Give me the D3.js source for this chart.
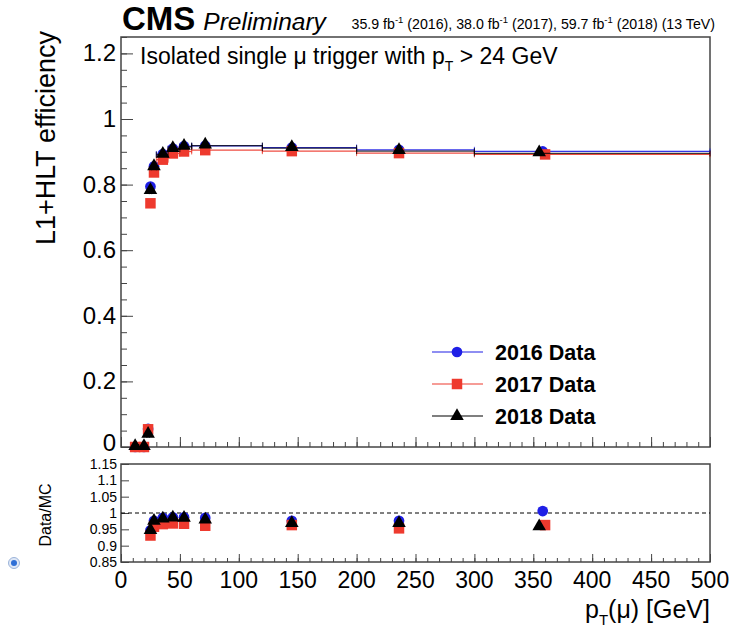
<!DOCTYPE html>
<html>
<head>
<meta charset="utf-8">
<script src="https://cdn.jsdelivr.net/npm/d3@7"></script>
<style>
  body { margin: 0; background: #fff; }
  svg { display: block; font-family: "Liberation Sans", Arial, Helvetica, sans-serif; }
</style>
</head>
<body>
<svg id="chart" width="731" height="630"></svg>
<script>
// ---------------- data ----------------
const binLo = [10, 15, 22, 24, 26, 30, 40, 50, 60, 120, 200, 300];
const binHi = [15, 22, 24, 26, 30, 40, 50, 60, 120, 200, 300, 500];
const pt2016 = [12, 19.5, 23, 25, 28, 35.5, 44, 53.5, 71.5, 145, 236, 358];
const pt2017 = [12, 19.5, 23, 25, 28, 35.5, 44, 53.5, 71.5, 145, 236, 360];
const pt2018 = [12, 19.5, 23, 25, 28, 35.5, 44, 53.5, 71.5, 145, 236, 355];
const eff2016 = [0, 0, 0.055, 0.794, 0.856, 0.893, 0.910, 0.917, 0.918, 0.913, 0.906, 0.901];
const eff2017 = [0, 0, 0.054, 0.743, 0.837, 0.876, 0.895, 0.901, 0.905, 0.902, 0.896, 0.892];
const eff2018 = [0, 0, 0.037, 0.780, 0.853, 0.891, 0.908, 0.915, 0.919, 0.911, 0.902, 0.895];

const ratioIdx = [3, 4, 5, 6, 7, 8, 9, 10, 11];
const ratio2016 = [0.947, 0.976, 0.985, 0.987, 0.987, 0.985, 0.976, 0.976, 1.006];
const ratio2017 = [0.931, 0.958, 0.966, 0.968, 0.967, 0.961, 0.963, 0.953, 0.963];
const ratio2018 = [0.945, 0.973, 0.980, 0.983, 0.982, 0.977, 0.966, 0.966, 0.956];
const ratioErr2016 = [0.003, 0.002, 0.002, 0.002, 0.002, 0.002, 0.003, 0.004, 0.012];

const xTicks = [0, 50, 100, 150, 200, 250, 300, 350, 400, 450, 500];
const yTicksMain = [0, 0.2, 0.4, 0.6, 0.8, 1, 1.2];
const yTicksRatio = [0.85, 0.9, 0.95, 1, 1.05, 1.1, 1.15];
const seriesNames = ["2016 Data", "2017 Data", "2018 Data"];
const seriesColors = ["#1f1fe6", "#ee3a2e", "#000000"];
const seriesShapes = ["circle", "square", "triangle"];

// ---------------- layout ----------------
const svg = d3.select("#chart");
const L = 121, R = 710;
const x = d3.scaleLinear().domain([0, 500]).range([L, R]);
const yM = d3.scaleLinear().domain([0, 1.25]).range([447, 37]);
const yR = d3.scaleLinear().domain([0.85, 1.15]).range([562, 464]);
const frameColor = "#444";

function symbolPath(shape) {
  if (shape === "circle") return d3.symbol().type(d3.symbolCircle).size(90)();
  if (shape === "square") return d3.symbol().type(d3.symbolSquare).size(110)();
  return d3.symbol().type(d3.symbolTriangle).size(80)();
}

// ---------------- main panel ----------------
const gM = svg.append("g");
gM.append("rect").attr("x", L).attr("y", 37).attr("width", R - L).attr("height", 410)
  .attr("fill", "none").attr("stroke", frameColor).attr("stroke-width", 1.5);

// left axis
const yMinor = d3.range(0, 1.2501, 0.05);
gM.append("g").attr("transform", `translate(${L},0)`)
  .call(d3.axisRight(yM).tickValues(yMinor).tickSize(6).tickFormat(""))
  .call(g => g.select(".domain").remove())
  .call(g => g.selectAll("line").attr("stroke", frameColor));
gM.append("g").attr("transform", `translate(${L},0)`)
  .call(d3.axisRight(yM).tickValues(yTicksMain).tickSize(12).tickFormat(""))
  .call(g => g.select(".domain").remove())
  .call(g => g.selectAll("line").attr("stroke", frameColor));
gM.selectAll(".ylab").data(yTicksMain).enter().append("text")
  .attr("x", 116).attr("y", d => yM(d) + (d === 0 ? 4 : 8)).attr("text-anchor", "end")
  .attr("font-size", 24).text(d => d3.format("~g")(d));

// bottom axis ticks (main)
const xMinor = d3.range(0, 501, 10);
gM.append("g").attr("transform", `translate(0,447)`)
  .call(d3.axisTop(x).tickValues(xMinor).tickSize(5).tickFormat(""))
  .call(g => g.select(".domain").remove())
  .call(g => g.selectAll("line").attr("stroke", frameColor));
gM.append("g").attr("transform", `translate(0,447)`)
  .call(d3.axisTop(x).tickValues(xTicks).tickSize(10).tickFormat(""))
  .call(g => g.select(".domain").remove())
  .call(g => g.selectAll("line").attr("stroke", frameColor));

const mainSeries = [
  { pt: pt2016, eff: eff2016 },
  { pt: pt2017, eff: eff2017 },
  { pt: pt2018, eff: eff2018 }
];
mainSeries.forEach((s, k) => {
  const g = gM.append("g");
  const pts = s.eff.map((v, i) => ({ x: s.pt[i], y: v, lo: binLo[i], hi: binHi[i] }));
  g.selectAll("line.h").data(pts).enter().append("line")
    .attr("x1", d => x(d.lo)).attr("x2", d => x(d.hi))
    .attr("y1", d => yM(d.y)).attr("y2", d => yM(d.y))
    .attr("stroke", seriesColors[k]).attr("stroke-width", 1.3)
    .attr("opacity", k === 2 ? 0.75 : 0.9);
  g.selectAll("line.c1").data(pts).enter().append("line")
    .attr("x1", d => x(d.lo)).attr("x2", d => x(d.lo))
    .attr("y1", d => yM(d.y) - 3).attr("y2", d => yM(d.y) + 3)
    .attr("stroke", seriesColors[k]).attr("stroke-width", 1).attr("opacity", 0.8);
  g.selectAll("line.c2").data(pts).enter().append("line")
    .attr("x1", d => x(d.hi)).attr("x2", d => x(d.hi))
    .attr("y1", d => yM(d.y) - 3).attr("y2", d => yM(d.y) + 3)
    .attr("stroke", seriesColors[k]).attr("stroke-width", 1).attr("opacity", 0.8);
  g.selectAll("path").data(pts).enter().append("path")
    .attr("d", symbolPath(seriesShapes[k]))
    .attr("transform", d => `translate(${x(d.x)},${yM(d.y) - (seriesShapes[k] === "triangle" ? 1 : 0)})`)
    .attr("fill", seriesColors[k]);
});

// text in main panel
const t1 = gM.append("text").attr("x", 140).attr("y", 64).attr("font-size", 23);
t1.append("tspan").text("Isolated single μ trigger with p");
t1.append("tspan").attr("font-size", 14).attr("dy", 7).text("T");
t1.append("tspan").attr("dy", -7).text(" > 24 GeV");

// legend
const legY = [352, 384, 416];
seriesNames.forEach((name, k) => {
  gM.append("line").attr("x1", 432).attr("x2", 483).attr("y1", legY[k]).attr("y2", legY[k])
    .attr("stroke", seriesColors[k]).attr("stroke-width", 1.2);
  gM.append("path").attr("d", symbolPath(seriesShapes[k]))
    .attr("transform", `translate(457,${legY[k]})`).attr("fill", seriesColors[k]);
  gM.append("text").attr("x", 495).attr("y", legY[k] + 8).attr("font-size", 21.5)
    .attr("font-weight", "bold").text(name);
});

// header
const hdr = svg.append("text").attr("x", 122).attr("y", 30);
hdr.append("tspan").attr("font-size", 33).attr("font-weight", "bold").text("CMS");
hdr.append("tspan").attr("font-size", 24.5).attr("font-style", "italic").attr("dx", 8).text("Preliminary");
const lumi = svg.append("text").attr("x", 715).attr("y", 29).attr("text-anchor", "end").attr("font-size", 14.2);
[["35.9 fb", "(2016), "], ["38.0 fb", "(2017), "], ["59.7 fb", "(2018) (13 TeV)"]].forEach(p => {
  lumi.append("tspan").text(p[0]);
  lumi.append("tspan").attr("font-size", 9.5).attr("dy", -6).text("-1");
  lumi.append("tspan").attr("dy", 6).text(" " + p[1]);
});

// y title
svg.append("text").attr("transform", "translate(55,138) rotate(-90)")
  .attr("text-anchor", "middle").attr("font-size", 27).text("L1+HLT efficiency");

// ---------------- ratio panel ----------------
const gR = svg.append("g");
gR.append("rect").attr("x", L).attr("y", 464).attr("width", R - L).attr("height", 98)
  .attr("fill", "none").attr("stroke", frameColor).attr("stroke-width", 1.5);
gR.append("g").attr("transform", `translate(${L},0)`)
  .call(d3.axisRight(yR).tickValues(yTicksRatio).tickSize(8).tickFormat(""))
  .call(g => g.select(".domain").remove())
  .call(g => g.selectAll("line").attr("stroke", frameColor));
gR.selectAll(".rlab").data(yTicksRatio).enter().append("text")
  .attr("x", 117).attr("y", d => yR(d) + 5).attr("text-anchor", "end")
  .attr("font-size", 14).text(d => d3.format("~g")(d));
gR.append("g").attr("transform", `translate(0,562)`)
  .call(d3.axisTop(x).tickValues(xMinor).tickSize(4).tickFormat(""))
  .call(g => g.select(".domain").remove())
  .call(g => g.selectAll("line").attr("stroke", frameColor));
gR.append("g").attr("transform", `translate(0,562)`)
  .call(d3.axisTop(x).tickValues(xTicks).tickSize(8).tickFormat(""))
  .call(g => g.select(".domain").remove())
  .call(g => g.selectAll("line").attr("stroke", frameColor));
gR.append("line").attr("x1", L).attr("x2", R).attr("y1", yR(1)).attr("y2", yR(1))
  .attr("stroke", "#000").attr("stroke-width", 1).attr("stroke-dasharray", "4,3");

const ratioSeries = [
  { pt: pt2016, r: ratio2016, err: ratioErr2016 },
  { pt: pt2017, r: ratio2017, err: null },
  { pt: pt2018, r: ratio2018, err: null }
];
ratioSeries.forEach((s, k) => {
  const g = gR.append("g");
  const pts = s.r.map((v, i) => ({ x: s.pt[ratioIdx[i]], y: v, e: s.err ? s.err[i] : 0 }));
  g.selectAll("line").data(pts).enter().append("line")
    .attr("x1", d => x(d.x)).attr("x2", d => x(d.x))
    .attr("y1", d => yR(d.y - d.e)).attr("y2", d => yR(d.y + d.e))
    .attr("stroke", seriesColors[k]).attr("stroke-width", 1.3);
  g.selectAll("path").data(pts).enter().append("path")
    .attr("d", symbolPath(seriesShapes[k]))
    .attr("transform", d => `translate(${x(d.x)},${yR(d.y) - (seriesShapes[k] === "triangle" ? 1 : 0)})`)
    .attr("fill", seriesColors[k]);
});

svg.append("text").attr("transform", "translate(51,515) rotate(-90)")
  .attr("text-anchor", "middle").attr("font-size", 16).text("Data/MC");

// x tick labels
svg.selectAll(".xlab").data(xTicks).enter().append("text")
  .attr("x", d => x(d)).attr("y", 588).attr("text-anchor", "middle")
  .attr("font-size", 23).text(d => d);

// x title
const xt = svg.append("text").attr("x", 710).attr("y", 618).attr("text-anchor", "end").attr("font-size", 25);
xt.append("tspan").text("p");
xt.append("tspan").attr("font-size", 15).attr("dy", 7).text("T");
xt.append("tspan").attr("dy", -7).text("(μ) [GeV]");

// small radio-like marker at lower left
svg.append("circle").attr("cx", 14).attr("cy", 563).attr("r", 5.5)
  .attr("fill", "#dfe8f7").attr("stroke", "#9bb3d9").attr("stroke-width", 1);
svg.append("circle").attr("cx", 14).attr("cy", 563).attr("r", 3).attr("fill", "#2f6fd6");
</script>
</body>
</html>
